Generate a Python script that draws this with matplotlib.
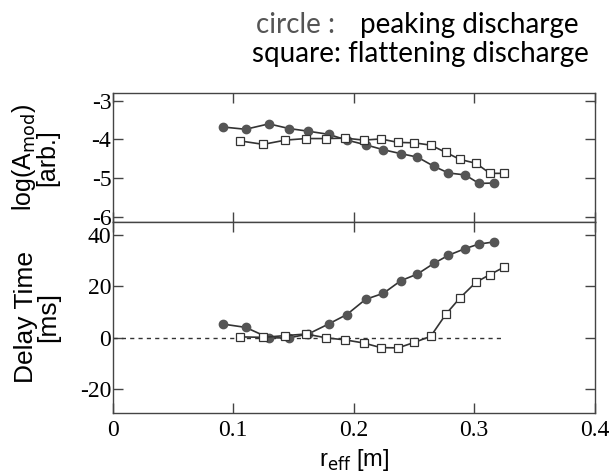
import matplotlib
matplotlib.use("Agg")
import matplotlib.pyplot as plt

# ---- data ----
r_circ = [0.0912, 0.1103, 0.1296, 0.1462, 0.1622, 0.1791, 0.1943, 0.2098,
          0.2247, 0.2391, 0.2529, 0.2667, 0.2786, 0.2924, 0.3040, 0.3164]
logA_circ = [-3.68, -3.74, -3.60, -3.72, -3.79, -3.87, -4.02, -4.14,
             -4.27, -4.37, -4.46, -4.70, -4.87, -4.92, -5.14, -5.13]
r_sq = [0.1056, 0.1249, 0.1434, 0.1603, 0.1774, 0.1932, 0.2084, 0.2225,
        0.2368, 0.2501, 0.2639, 0.2766, 0.2882, 0.3015, 0.3131, 0.3245]
logA_sq = [-4.04, -4.13, -4.02, -3.98, -3.98, -3.97, -4.02, -3.99,
           -4.08, -4.09, -4.15, -4.34, -4.52, -4.62, -4.88, -4.88]

delay_circ = [5.3, 4.0, -0.1, -0.1, 1.4, 5.3, 9.0, 14.9,
              17.3, 22.2, 24.8, 29.0, 32.1, 34.7, 36.5, 37.3]
delay_sq = [0.3, 0.1, 0.8, 1.4, -0.1, -0.9, -2.1, -3.9,
            -4.0, -1.9, 0.5, 9.2, 15.5, 21.6, 24.6, 27.4]

xticks = [0, 0.1, 0.2, 0.3, 0.4]
xticklabels = ["0", "0.1", "0.2", "0.3", "0.4"]
top_yticks = [-6, -5, -4, -3]
bot_yticks = [-20, 0, 20, 40]

serif = ["Liberation Serif", "DejaVu Serif"]
sans = ["Liberation Sans", "DejaVu Sans"]
annot = ["Lato", "DejaVu Sans"]

fig = plt.figure(figsize=(6.14, 4.72), dpi=100)
L, W = 0.1835, 0.7851
ax1 = fig.add_axes([L, 0.5303, W, 0.2720])
ax2 = fig.add_axes([L, 0.1244, W, 0.4059])

lc = "#333333"
for ax in (ax1, ax2):
    for s in ax.spines.values():
        s.set_color("#444444")
        s.set_linewidth(1.0)
    ax.tick_params(direction="in", top=True, right=True, length=7,
                   width=1.0, color="#444444", labelsize=17, pad=1)
    ax.set_xlim(0, 0.4)
    ax.set_xticks(xticks)

# top panel
ax1.plot(r_circ, logA_circ, "-", color=lc, lw=1.2, marker="o", ms=6,
         mfc="#555555", mec="#555555")
ax1.plot(r_sq, logA_sq, "-", color=lc, lw=1.2, marker="s", ms=6,
         mfc="white", mec="#333333", mew=0.9)
ax1.set_ylim(-6.13, -2.81)
ax1.set_yticks(top_yticks)
ax1.set_yticklabels([str(v) for v in top_yticks], family=serif, fontsize=17)
ax1.set_xticklabels([])
ax1.set_ylabel("log(A$_{\\mathrm{mod}}$)\n[arb.]", family=sans, fontsize=18,
               linespacing=0.85)

# bottom panel
ax2.plot([0, 0.324], [0, 0], "--", color="#333333", lw=1.0, dashes=(3, 3))
ax2.plot(r_circ, delay_circ, "-", color=lc, lw=1.2, marker="o", ms=6,
         mfc="#555555", mec="#555555")
ax2.plot(r_sq, delay_sq, "-", color=lc, lw=1.2, marker="s", ms=6,
         mfc="white", mec="#333333", mew=0.9)
ax2.set_ylim(-29.5, 45.2)
ax2.set_yticks(bot_yticks)
ax2.set_yticklabels([str(v) for v in bot_yticks], family=serif, fontsize=17)
ax2.set_xticklabels(xticklabels, family=serif, fontsize=17)
ax2.tick_params(axis="x", pad=5)
ax2.set_ylabel("Delay Time\n[ms]", family=sans, fontsize=19,
               linespacing=0.85)
ax2.set_xlabel("r$_{\\mathrm{eff}}$ [m]", family=sans, fontsize=17, labelpad=4)
ax1.yaxis.set_label_coords(-0.11, 0.5)
ax2.yaxis.set_label_coords(-0.11, 0.5)

# annotation
fig.text(256 / 614, 1 - 33 / 472, "circle :", color="#555555",
         family=annot, fontsize=20, va="baseline", ha="left")
fig.text(360 / 614, 1 - 33 / 472, "peaking discharge", color="black",
         family=annot, fontsize=20, va="baseline", ha="left")
fig.text(252 / 614, 1 - 62 / 472, "square: flattening discharge", color="black",
         family=annot, fontsize=20, va="baseline", ha="left")

fig.savefig("out.png", dpi=100)
